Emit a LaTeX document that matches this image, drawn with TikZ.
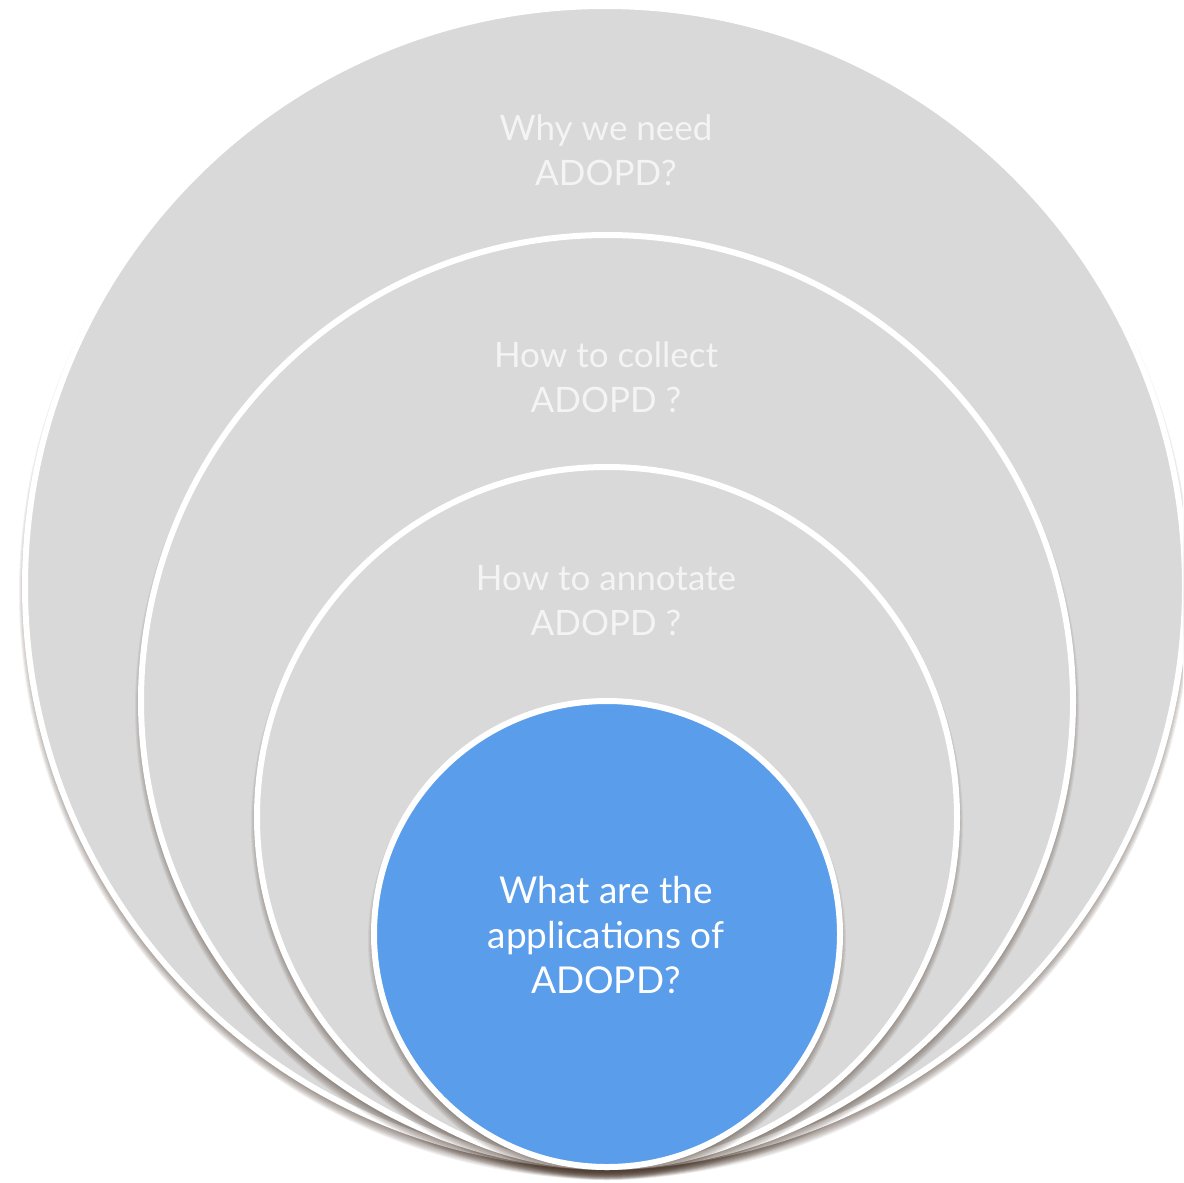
\documentclass[tikz,border=0pt]{standalone}
\usepackage{fontspec}
\setmainfont{Lato}
\definecolor{ringgray}{HTML}{D9D9D9}
\definecolor{coreblue}{HTML}{5A9DEA}
\definecolor{shadowbrown}{HTML}{4A382C}
\definecolor{labelwhite}{HTML}{F4F4F4}
\tikzset{
  ring/.style={fill=ringgray, draw=white, line width=6pt},
  core/.style={fill=coreblue, draw=white, line width=6pt},
  ringlabel/.style={text=labelwhite, font=\fontsize{35}{45}\selectfont, align=center, inner sep=0pt},
  corelabel/.style={text=white, font=\fontsize{37}{45}\selectfont, align=center, inner sep=0pt},
}
\newcommand{\softshadow}[3]{%
  \foreach \k in {0,...,10} {
    \fill[shadowbrown, opacity=0.07] (#1,#2+7) circle ({#3-7+\k*1.0});
  }%
}
\begin{document}
\begin{tikzpicture}[x=1pt,y=-1pt]
\useasboundingbox (0,0) rectangle (1183,1183);
\clip (0,0) rectangle (1183,1183);
\fill[white] (0,0) rectangle (1183,1183);
% outer
\softshadow{605}{586}{583}
\node[ring, circle, minimum size=1160pt, inner sep=0pt] (c1) at (605,586) {};
% second
\softshadow{607}{701}{469}
\node[ring, circle, minimum size=932pt, inner sep=0pt] (c2) at (607,701) {};
% third
\softshadow{607}{817}{353}
\node[ring, circle, minimum size=700pt, inner sep=0pt] (c3) at (607,817) {};
% core
\softshadow{607}{934}{236}
\node[core, circle, minimum size=466pt, inner sep=0pt] (c4) at (607,934) {};
% labels
\node[ringlabel] (t1) at (606,150) {Why we need\\ADOPD?};
\node[ringlabel] (t2) at (606,377) {How to collect\\ADOPD ?};
\node[ringlabel] (t3) at (606,601) {How to annotate\\ADOPD ?};
\node[corelabel] (t4) at (606,935) {What are the\\applications of\\ADOPD?};
\end{tikzpicture}
\end{document}
